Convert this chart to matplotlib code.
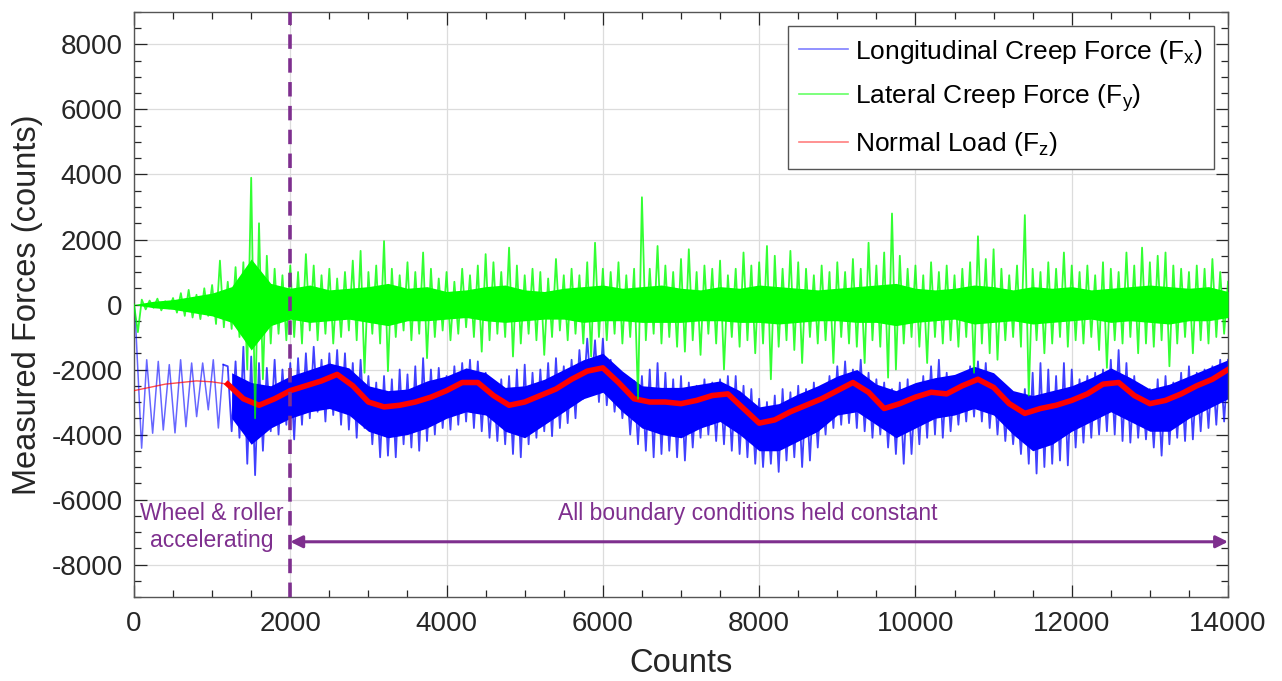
import numpy as np
import matplotlib
matplotlib.use("Agg")
import matplotlib.pyplot as plt
from matplotlib.lines import Line2D
from matplotlib.ticker import MultipleLocator

plt.rcParams['font.family'] = ['Liberation Sans', 'DejaVu Sans']
plt.rcParams['mathtext.default'] = 'regular'
plt.rcParams['axes.unicode_minus'] = False

# ---------------- data ----------------
# Longitudinal creep force Fx: early oscillation (turning points)
fx_early_x = [0, 15, 98, 163, 239, 311, 375, 452, 525, 597, 665, 738, 802, 879, 951, 1015, 1080, 1143]
fx_early_y = [0, -300, -4420, -1700, -3960, -1750, -3860, -1850, -3950, -1700, -3760, -1800,
              -3450, -1800, -3240, -1700, -3800, -1850]
# Fx upper extremes at 1200..14000 (step 100)
fx_hi_x = list(range(1200, 14001, 100))
fx_hi = [-1900, -1750, -1300, -1600, -1800, -1950, -1700, -2000, -1800, -1650,
         -1500, -1300, -1700, -1500, -1400, -1500, -1800, -1700, -2200, -2400,
         -2200, -2300, -2000, -2150, -1900, -1650, -2000, -1950, -2200, -1900,
         -1800, -1700, -1750, -2100, -2400, -2300, -2200, -2000, -1850, -2100,
         -2000, -1800, -1650, -1900, -1700, -1400, -1050, -1100, -1050, -1700,
         -2000, -2200, -2350, -2200, -2000, -1800, -2100, -2300, -2200, -2400,
         -2500, -2300, -2400, -2300, -2200, -2200, -2500, -2600, -2900, -3000,
         -2800, -2600, -2700, -2500, -2600, -2400, -2500, -2200, -1900, -1750,
         -2000, -1700, -2100, -2300, -2400, -2600, -2400, -2300, -2500, -2200,
         -1900, -1700, -2100, -2300, -2200, -1900, -1750, -1800, -2200, -2400,
         -2700, -2900, -2600, -2100, -1800, -2000, -2200, -1800, -2000, -2300,
         -2200, -2100, -2000, -1700, -1400, -1800, -2200, -2500, -2600, -2300,
         -2200, -2400, -2100, -1900, -2100, -2000, -1900, -1700, -1700]
# Fx lower extremes at 1250..13950 (step 100)
fx_lo_x = list(range(1250, 13951, 100))
fx_lo = [-3900, -4100, -4900, -5250, -4500, -3900, -4000, -3700, -4150, -3700,
         -3500, -3300, -3600, -3400, -3700, -3850, -4100, -3800, -4300, -4700,
         -4650, -4700, -4300, -4400, -4500, -4200, -4000, -3800, -3850, -3700,
         -3600, -3800, -3900, -4100, -4200, -4300, -4600, -4700, -4300, -4100,
         -3900, -4050, -3800, -3650, -3500, -2900, -2700, -3000, -3100, -3300,
         -3500, -4000, -4300, -4500, -4700, -4600, -4500, -4700, -4800, -4400,
         -4100, -4000, -4200, -4300, -4500, -4600, -4700, -4900, -5000, -4900,
         -5150, -4800, -4700, -5000, -4800, -4400, -4000, -3800, -3700, -3650,
         -3800, -3900, -4100, -4000, -4400, -4600, -4900, -4600, -4300, -4100,
         -4000, -4100, -3900, -3700, -3600, -3450, -3600, -3800, -4000, -4200,
         -4300, -4600, -4900, -5200, -5000, -4900, -4800, -4950, -4400, -4250,
         -4100, -4000, -3900, -4000, -4200, -4250, -4100, -4150, -4400, -4650,
         -4300, -4100, -4200, -4150, -3900, -3800, -3700, -3600]
# Fx dense core band (step 250 from 1250)
fx_core_x = list(range(1250, 14001, 250))
fx_core_hi = [-2100, -2400, -2500, -2200, -2000, -1800, -1950, -2500, -2650, -2600,
              -2350, -2200, -1950, -2100, -2550, -2500, -2300, -2000, -1700, -1500,
              -2050, -2500, -2550, -2550, -2450, -2350, -2650, -3150, -3050, -2750,
              -2500, -2200, -2000, -2450, -2650, -2400, -2250, -2150, -1900, -2100,
              -2650, -2800, -2650, -2500, -2250, -1950, -2250, -2600, -2450, -2200,
              -1950, -1700]
fx_core_lo = [-3500, -4300, -3800, -3500, -3300, -3200, -3400, -3900, -4100, -4000,
              -3800, -3500, -3300, -3400, -3900, -4100, -3700, -3300, -2900, -2700,
              -3300, -3800, -4000, -4100, -3800, -3600, -4000, -4500, -4500, -4200,
              -3900, -3400, -3300, -3700, -4100, -3800, -3500, -3400, -3200, -3400,
              -4000, -4500, -4300, -3900, -3600, -3300, -3600, -3900, -3900, -3500,
              -3200, -2900]

# Lateral creep force Fy: upper extremes at 0..14000 (step 100)
fy_hi_x = list(range(0, 14001, 100))
fy_hi = [0, 150, 120, 180, 100, 200, 350, 450, 300, 500,
         600, 1350, 700, 1150, 1300, 3900, 2500, 1500, 1100, 900,
         1200, 1000, 1550, 1200, 900, 1100, 800, 1000, 1350, 1650,
         1000, 1200, 1950, 1100, 900, 1300, 1000, 1600, 1100, 800,
         1000, 700, 1100, 900, 1200, 1550, 1300, 1000, 1750, 1200,
         900, 1100, 1000, 800, 1400, 900, 1100, 900, 1300, 1900,
         1100, 1000, 1300, 900, 1100, 3300, 1100, 1800, 1200, 1000,
         1400, 1700, 1000, 1200, 1100, 1350, 900, 1100, 1600, 1200,
         1300, 1800, 1500, 1100, 1650, 1300, 1100, 900, 1200, 1000,
         1300, 1000, 1400, 1100, 1900, 1200, 1600, 2800, 1500, 1100,
         1200, 900, 1300, 1000, 1200, 900, 1100, 1300, 2100, 1400,
         1700, 1100, 900, 1200, 2750, 1100, 1000, 1300, 1100, 1600,
         1200, 1000, 1200, 900, 1300, 1100, 1000, 1600, 1200, 1750,
         1300, 1500, 1600, 1200, 1100, 1000, 1200, 1100, 1400, 1000, 700]
# Fy lower extremes at 50..13950 (step 100)
fy_lo_x = list(range(50, 13951, 100))
fy_lo = [-850, -150, -100, -180, -120, -250, -350, -400, -450, -350,
         -600, -700, -750, -1000, -2000, -3500, -2300, -1200, -900, -1100,
         -1000, -1200, -800, -1100, -900, -1200, -1000, -800, -1100, -2100,
         -900, -1200, -2050, -1000, -800, -1100, -900, -1650, -1000, -800,
         -1100, -900, -700, -1000, -1450, -1100, -900, -1000, -1600, -1200,
         -900, -1100, -1550, -1000, -800, -1100, -900, -1200, -1600, -1000,
         -1100, -900, -1200, -1000, -2900, -1100, -900, -1200, -1000, -1300,
         -1450, -1100, -1550, -900, -1200, -2000, -1000, -1300, -1100, -1500,
         -1200, -2300, -1300, -1100, -1400, -1800, -1000, -1200, -1100, -1800,
         -1000, -1200, -1300, -1800, -1100, -1300, -2250, -2000, -1200, -1000,
         -1300, -1800, -1000, -1200, -1100, -1300, -1000, -2100, -1200, -1500,
         -1700, -1100, -1000, -1300, -2800, -1100, -1500, -1200, -1000, -1300,
         -1100, -1200, -1000, -1400, -1950, -1100, -1200, -1000, -1500, -1200,
         -1300, -1100, -1900, -1200, -1000, -1500, -1100, -1200, -1000, -900]
# Fy dense core band (step 250)
fy_core_x = list(range(0, 14001, 250))
fy_core_hi = [0, 100, 150, 250, 350, 550, 1400, 650, 500, 600,
              450, 500, 550, 650, 500, 550, 400, 450, 550, 600,
              450, 400, 500, 550, 600, 500, 550, 600, 500, 450,
              550, 500, 600, 550, 500, 450, 500, 550, 600, 650,
              500, 450, 500, 600, 550, 450, 550, 500, 550, 450,
              500, 550, 600, 550, 500, 550, 400]
fy_core_lo = [0, -100, -150, -250, -350, -550, -1400, -650, -450, -550,
              -500, -450, -550, -650, -500, -500, -450, -400, -500, -550,
              -500, -450, -450, -550, -500, -500, -550, -550, -550, -500,
              -500, -550, -550, -600, -550, -500, -500, -550, -550, -650,
              -550, -500, -450, -600, -550, -500, -600, -550, -500, -450,
              -550, -500, -550, -600, -500, -500, -400]

# Normal load Fz
fz_x = list(range(0, 14001, 200))
fz = [-2650, -2550, -2450, -2400, -2350, -2380, -2450, -2900, -3100, -2900,
      -2650, -2500, -2350, -2150, -2500, -3000, -3150, -3100, -3000, -2850,
      -2650, -2400, -2400, -2800, -3100, -3000, -2800, -2600, -2300, -2050,
      -1950, -2400, -2900, -3000, -3000, -3050, -2950, -2800, -2750, -3200,
      -3650, -3550, -3300, -3100, -2900, -2650, -2400, -2700, -3200, -3050,
      -2850, -2700, -2750, -2500, -2300, -2550, -3050, -3350, -3200, -3100,
      -2950, -2750, -2450, -2400, -2800, -3050, -2950, -2750, -2500, -2300, -2000]

labels = ['Longitudinal Creep Force (F$_{x}$)', 'Lateral Creep Force (F$_{y}$)',
          'Normal Load (F$_{z}$)']
phase_split = 2000
arrow_y = -7300
note_left = 'Wheel & roller\naccelerating'
note_right = 'All boundary conditions held constant'

# ---------------- drawing ----------------
purple = '#7E2F8E'
ink = '#262626'
green = '#00ff00'


def zigzag(xa, ya, xb, yb):
    n = len(xa) + len(xb)
    zx = np.empty(n)
    zy = np.empty(n)
    zx[0::2] = xa
    zx[1::2] = xb
    zy[0::2] = ya
    zy[1::2] = yb
    return zx, zy


fig = plt.figure(figsize=(12.82, 6.81), dpi=100)
ax = fig.add_axes([0.1045, 0.1233, 0.8534, 0.8591])

# Fx
ax.plot(fx_early_x, fx_early_y, color='b', lw=1.1, alpha=0.6, zorder=2)
ax.fill_between(fx_core_x, fx_core_lo, fx_core_hi, color='b', lw=0, zorder=2)
bx, by = zigzag(fx_hi_x, fx_hi, fx_lo_x, fx_lo)
ax.plot(np.r_[fx_early_x[-1], bx], np.r_[fx_early_y[-1], by], color='b', lw=1.3,
        alpha=0.75, zorder=2)

# Fz
ax.plot(fz_x[:7], fz[:7], color='r', lw=1.0, alpha=0.7, zorder=3)
ax.plot(fz_x[6:], fz[6:], color='r', lw=4.0, zorder=3)

# Fy
ax.fill_between(fy_core_x, fy_core_lo, fy_core_hi, color=green, lw=0, zorder=4)
gx, gy = zigzag(fy_hi_x, fy_hi, fy_lo_x, fy_lo)
ax.plot(gx, gy, color=green, lw=1.3, alpha=0.8, zorder=4)

# phase marker and annotations
ax.axvline(phase_split, color=purple, lw=2.6, ls=(0, (4, 2.6)), zorder=5)
ax.annotate('', xy=(14000, arrow_y), xytext=(phase_split, arrow_y),
            arrowprops=dict(arrowstyle='<|-|>', color=purple, lw=2.2,
                            mutation_scale=18, shrinkA=0, shrinkB=0), zorder=5)
ax.text(990, -6850, note_left, color=purple, fontsize=16.5, ha='center', va='center',
        linespacing=1.2, zorder=6)
ax.text(7850, -6430, note_right, color=purple, fontsize=16.5, ha='center', va='center',
        zorder=6)

# axes styling
ax.set_xlim(0, 14000)
ax.set_ylim(-9000, 9000)
ax.xaxis.set_major_locator(MultipleLocator(2000))
ax.xaxis.set_minor_locator(MultipleLocator(500))
ax.yaxis.set_minor_locator(MultipleLocator(500))
ax.set_yticks(range(-8000, 8001, 2000))
ax.grid(True, which='major', color='#dcdcdc', lw=0.9, zorder=0)
ax.set_axisbelow(True)
ax.tick_params(which='both', direction='in', top=True, right=True, colors=ink,
               labelsize=20, width=0.9)
ax.tick_params(which='major', length=9)
ax.tick_params(which='minor', length=5)
ax.tick_params(axis='x', which='major', pad=10)
ax.tick_params(axis='y', which='major', pad=8)
for s in ax.spines.values():
    s.set_color('#555555')
    s.set_linewidth(1.0)
ax.set_xlabel('Counts', fontsize=23.5, color=ink, labelpad=8)
ax.set_ylabel('Measured Forces (counts)', fontsize=23.5, color=ink, labelpad=6)

handles = [Line2D([], [], color='b', lw=1.2, alpha=0.5),
           Line2D([], [], color=green, lw=1.2, alpha=0.6),
           Line2D([], [], color='r', lw=1.2, alpha=0.5)]
leg = ax.legend(handles, labels, loc='upper right', fontsize=19, frameon=True,
                fancybox=False, edgecolor='#555555', framealpha=1,
                handlelength=1.85, handletextpad=0.25, labelspacing=0.62,
                borderaxespad=0.55, borderpad=0.42)
leg.get_frame().set_linewidth(1.0)
for t in leg.get_texts():
    t.set_color('black')
leg.set_zorder(10)

fig.savefig('out.png', dpi=100)
